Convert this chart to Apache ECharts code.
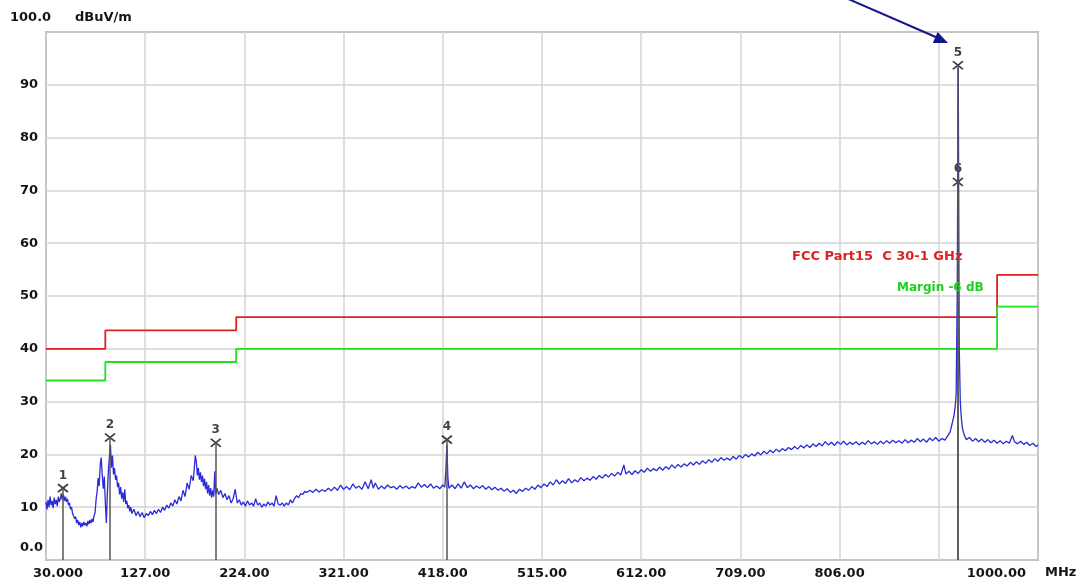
<!DOCTYPE html>
<html>
<head>
<meta charset="utf-8">
<script src="https://cdn.jsdelivr.net/npm/echarts@6/dist/echarts.min.js"></script>
<style>
  html, body { margin: 0; padding: 0; background: #fff; }
  #main { width: 1078px; height: 585px; }
</style>
</head>
<body>
<div id="main"></div>
<script>
// spectrum trace, [MHz, dBuV/m]
var trace = [
  [30,11.0],[31,9.6],[32,11.4],[33,10.0],[34,12.0],[35,10.4],[36,11.2],[37,9.8],[38,11.8],[39,10.6],
  [40,11.4],[41,10.2],[42,12.0],[43,11.0],[44,11.6],[45,12.6],[46,11.4],[47,12.4],[48,11.2],[49,12.0],
  [50,11.0],[51,11.6],[52,10.4],[53,10.8],[54,9.6],[55,10.0],[56,8.8],[57,9.0],[58,7.8],[59,8.2],
  [60,7.0],[61,7.6],[62,6.6],[63,7.2],[64,6.2],[65,7.0],[66,6.4],[67,7.2],[68,6.6],[69,7.0],
  [70,6.4],[71,7.4],[72,6.8],[73,7.6],[74,7.0],[75,7.8],[76,7.2],[77,8.4],[78,9.0],[79,11.5],
  [80,13.0],[81,15.5],[82,14.0],[83,18.0],[84,19.4],[85,16.0],[86,13.5],[87,15.8],[88,11.0],[89,7.0],
  [90,12.5],[91,17.0],[92,19.5],[93,21.8],[94,17.5],[95,19.8],[96,16.2],[97,17.4],[98,15.2],[99,16.0],
  [100,13.8],[101,14.6],[102,12.4],[103,13.8],[104,11.6],[105,12.8],[106,11.0],[107,13.4],[108,10.6],[109,11.2],
  [110,9.8],[111,10.4],[112,9.2],[113,10.0],[114,8.8],[116,9.6],[118,8.4],[120,9.2],[122,8.2],[124,9.0],
  [126,8.0],[128,8.8],[130,8.4],[132,9.2],[134,8.6],[136,9.4],[138,8.8],[140,9.6],[142,9.0],[144,10.0],
  [146,9.4],[148,10.4],[150,9.8],[152,10.8],[154,10.2],[156,11.4],[158,10.6],[160,12.0],[162,11.2],[164,13.2],
  [166,12.0],[168,14.6],[170,13.4],[172,16.0],[174,15.0],[176,19.8],[177,18.6],[178,16.0],[179,17.4],[180,15.2],
  [181,16.6],[182,14.8],[183,16.0],[184,14.0],[185,15.4],[186,13.4],[187,14.8],[188,12.6],[189,14.2],[190,12.2],
  [191,13.6],[192,11.8],[193,13.2],[194,12.0],[195,16.8],[196,12.4],[197,13.6],[199,12.4],[201,13.2],[203,11.8],
  [205,12.6],[207,11.4],[209,12.2],[211,10.8],[213,11.6],[215,13.4],[217,10.8],[219,11.4],[221,10.4],[223,11.0],
  [225,10.2],[227,11.2],[229,10.4],[231,10.8],[233,10.2],[235,11.6],[237,10.4],[239,10.8],[241,10.0],[243,10.6],
  [245,10.2],[247,11.0],[249,10.4],[251,10.8],[253,10.2],[255,12.2],[257,10.6],[259,10.4],[261,10.8],[263,10.2],
  [265,10.8],[267,10.4],[269,11.4],[271,10.8],[273,11.6],[275,12.2],[277,11.8],[279,12.6],[281,12.4],[283,13.0],
  [285,12.8],[288,13.2],[291,12.8],[294,13.4],[297,12.9],[300,13.3],[303,13.0],[306,13.6],[309,13.1],[312,13.8],
  [315,13.2],[318,14.2],[321,13.4],[324,13.9],[327,13.3],[330,14.4],[333,13.6],[336,14.0],[339,13.4],[342,14.8],
  [345,13.5],[348,15.2],[350,13.6],[352,14.6],[355,13.4],[358,14.0],[361,13.5],[364,14.2],[367,13.7],[370,13.9],
  [373,13.4],[376,14.1],[379,13.6],[382,14.0],[385,13.5],[388,13.9],[391,13.6],[394,14.6],[397,13.8],[400,14.3],
  [403,13.7],[406,14.4],[409,13.6],[412,14.0],[415,13.5],[418,14.2],[420,13.8],[421,17.0],[422,21.8],[423,15.5],
  [424,13.6],[427,14.2],[430,13.5],[433,14.4],[436,13.6],[439,14.8],[442,13.7],[445,14.2],[448,13.5],[451,14.0],
  [454,13.6],[457,14.1],[460,13.4],[463,13.9],[466,13.3],[469,13.8],[472,13.2],[475,13.6],[478,13.0],[481,13.5],
  [484,12.8],[487,13.2],[490,12.6],[493,13.4],[496,13.0],[499,13.6],[502,13.2],[505,13.9],[508,13.4],[511,14.2],
  [514,13.7],[517,14.4],[520,13.9],[523,14.8],[526,14.2],[529,15.2],[532,14.4],[535,15.0],[538,14.5],[541,15.4],
  [544,14.6],[547,15.2],[550,14.8],[553,15.6],[556,15.0],[559,15.5],[562,15.1],[565,15.8],[568,15.3],[571,16.0],
  [574,15.5],[577,16.2],[580,15.7],[583,16.4],[586,15.9],[589,16.6],[592,16.1],[595,18.0],[597,16.3],[600,16.8],
  [603,16.2],[606,16.9],[609,16.4],[612,17.1],[615,16.6],[618,17.4],[621,16.8],[624,17.3],[627,16.9],[630,17.6],
  [633,17.0],[636,17.7],[639,17.2],[642,18.0],[645,17.4],[648,18.1],[651,17.6],[654,18.2],[657,17.8],[660,18.5],
  [663,18.0],[666,18.6],[669,18.1],[672,18.8],[675,18.3],[678,19.0],[681,18.5],[684,19.2],[687,18.7],[690,19.4],
  [693,18.9],[696,19.3],[699,18.9],[702,19.6],[705,19.1],[708,19.8],[711,19.3],[714,20.0],[717,19.5],[720,20.1],
  [723,19.7],[726,20.4],[729,19.9],[732,20.6],[735,20.1],[738,20.8],[741,20.3],[744,21.0],[747,20.5],[750,21.1],
  [753,20.7],[756,21.3],[759,20.9],[762,21.5],[765,21.0],[768,21.7],[771,21.2],[774,21.8],[777,21.3],[780,22.0],
  [783,21.5],[786,22.1],[789,21.6],[792,22.4],[795,21.8],[798,22.3],[801,21.7],[804,22.4],[807,21.9],[810,22.5],
  [813,21.8],[816,22.3],[819,21.9],[822,22.4],[825,21.8],[828,22.3],[831,21.9],[834,22.6],[837,22.0],[840,22.4],
  [843,21.9],[846,22.5],[849,22.0],[852,22.6],[855,22.1],[858,22.7],[861,22.2],[864,22.6],[867,22.1],[870,22.8],
  [873,22.2],[876,22.7],[879,22.3],[882,23.0],[885,22.4],[888,22.9],[891,22.3],[894,23.1],[897,22.6],[900,23.2],
  [903,22.5],[906,23.0],[909,22.7],[912,23.6],[914,24.2],[916,25.8],[918,27.5],[919,29.0],[920,31.5],[921,50.0],
  [922,93.2],[923,40.0],[924,30.0],[925,27.0],[926,25.0],[928,23.6],[930,22.8],[933,23.2],[936,22.5],[939,23.0],
  [942,22.4],[945,22.9],[948,22.3],[951,22.8],[954,22.2],[957,22.7],[960,22.1],[963,22.6],[966,22.0],[969,22.5],
  [972,22.1],[975,23.6],[977,22.4],[980,22.0],[983,22.5],[986,21.9],[989,22.3],[992,21.7],[995,22.1],[998,21.5],
  [1000,21.8]
];

// FCC Part15 C limit and -6 dB margin (stepped)
var limitFreq = [30, 88, 88, 216, 216, 960, 960, 1000];
var limitLevel = [40, 40, 43.5, 43.5, 46, 46, 54, 54];
var marginLevel = [34, 34, 37.5, 37.5, 40, 40, 48, 48];

// markers
var markerNo = ['1', '2', '3', '4', '5', '6'];
var markerFreq = [46.6, 92.6, 196, 422, 921.7, 921.7];
var markerLevel = [13.6, 23.2, 22.2, 22.8, 93.7, 71.6];

// axis ticks
var xTicks = [30, 127, 224, 321, 418, 515, 612, 709, 806, 903, 1000];
var xTickLabels = [30, 127, 224, 321, 418, 515, 612, 709, 806, 1000];

var myChart = echarts.init(document.getElementById('main'));

var font = 'DejaVu Sans';
var ink = '#151515';

function pairs(xs, ys) {
  var out = [];
  for (var i = 0; i < xs.length; i++) out.push([xs[i], ys[i]]);
  return out;
}

var markerData = [];
var markerLines = [];
for (var i = 0; i < markerNo.length; i++) {
  markerData.push({ name: markerNo[i], value: [markerFreq[i], markerLevel[i]] });
  markerLines.push([{ coord: [markerFreq[i], 0] }, { coord: [markerFreq[i], markerLevel[i]] }]);
}

var option = {
  animation: false,
  backgroundColor: '#fff',
  grid: {
    left: 46, right: 40, top: 32, bottom: 25,
    show: true, borderColor: '#7a7a7a', borderWidth: 1.5
  },
  xAxis: {
    type: 'value',
    min: 30, max: 1000,
    axisLine: { show: false },
    axisTick: { show: false, customValues: xTicks },
    splitLine: { show: true, lineStyle: { color: '#d4d4d4', width: 1.5 } },
    axisLabel: {
      customValues: xTickLabels,
      margin: 7,
      color: ink,
      fontFamily: font, fontWeight: 'bold', fontSize: 13,
      alignMinLabel: 'left', alignMaxLabel: 'right',
      formatter: function (v) {
        if (v === 30) return '{first|30.000}';
        if (v === 1000) return '{last|1000.00}';
        return v.toFixed(2);
      },
      rich: {
        first: { fontFamily: font, fontWeight: 'bold', fontSize: 13, color: ink, padding: [0, 0, 0, -13] },
        last: { fontFamily: font, fontWeight: 'bold', fontSize: 13, color: ink, padding: [0, 12, 0, 0] }
      }
    }
  },
  yAxis: {
    type: 'value',
    min: 0, max: 100, interval: 10,
    axisLine: { show: false },
    axisTick: { show: false },
    splitLine: { show: true, lineStyle: { color: '#d4d4d4', width: 1.5 } },
    axisLabel: {
      align: 'left',
      margin: 26,
      color: ink,
      fontFamily: font, fontWeight: 'bold', fontSize: 13,
      formatter: function (v) {
        if (v === 100) return '{top|100.0}';
        if (v === 0) return '{bot|0.0}';
        return String(v);
      },
      rich: {
        top: { fontFamily: font, fontWeight: 'bold', fontSize: 13, color: ink, padding: [0, 0, 28, -10] },
        bot: { fontFamily: font, fontWeight: 'bold', fontSize: 13, color: ink, padding: [0, 0, 24, 0] }
      }
    }
  },
  series: [
    {
      name: 'markers',
      type: 'scatter',
      z: 2,
      symbol: 'path://M0,0L10,8M10,0L0,8',
      symbolSize: [10, 8],
      itemStyle: { color: 'rgba(0,0,0,0)', borderColor: '#111', borderWidth: 1.8 },
      label: {
        show: true, position: 'top', distance: 2,
        formatter: '{b}',
        color: '#111', fontFamily: font, fontWeight: 'bold', fontSize: 12
      },
      data: markerData,
      markLine: {
        silent: true,
        symbol: 'none',
        label: { show: false },
        lineStyle: { color: '#555', width: 1.5, type: 'solid' },
        data: markerLines
      }
    },
    {
      name: 'Limit',
      type: 'line',
      z: 3,
      showSymbol: false,
      lineStyle: { color: '#e02020', width: 1.8 },
      data: pairs(limitFreq, limitLevel)
    },
    {
      name: 'Margin',
      type: 'line',
      z: 3,
      showSymbol: false,
      lineStyle: { color: '#20e020', width: 1.8 },
      data: pairs(limitFreq, marginLevel)
    },
    {
      name: 'Trace',
      type: 'line',
      z: 4,
      showSymbol: false,
      lineStyle: { color: '#2a2ad8', width: 1.3 },
      data: trace
    }
  ],
  graphic: [
    { type: 'text', left: 75, top: 11,
      style: { text: 'dBuV/m', fill: ink, font: 'bold 13px "DejaVu Sans"' } },
    { type: 'text', left: 1045, top: 566,
      style: { text: 'MHz', fill: ink, font: 'bold 13px "DejaVu Sans"' } },
    { type: 'text', left: 792, top: 250, z: 10,
      style: { text: 'FCC Part15  C 30-1 GHz', fill: '#e02020', font: 'bold 13px "DejaVu Sans"' } },
    { type: 'text', left: 897, top: 282, z: 10,
      style: { text: 'Margin -6 dB', fill: '#20d020', font: 'bold 12px "DejaVu Sans"' } },
    { type: 'line', z: 10,
      shape: { x1: 846, y1: -2, x2: 938, y2: 38 },
      style: { stroke: '#14148c', lineWidth: 2 } },
    { type: 'polygon', z: 10,
      shape: { points: [[948, 43], [932.8, 42.9], [937.6, 31.9]] },
      style: { fill: '#14148c' } }
  ]
};

myChart.setOption(option);
</script>
</body>
</html>
